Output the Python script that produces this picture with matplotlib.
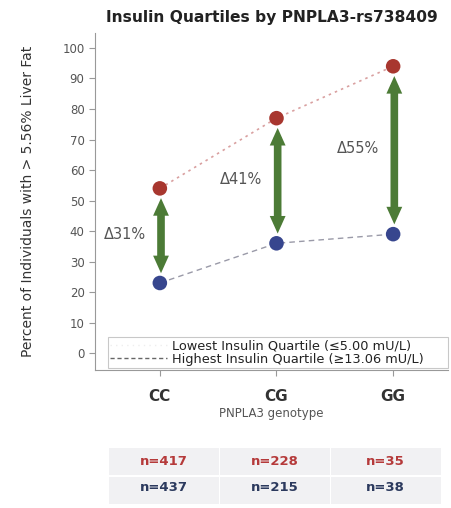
import matplotlib
matplotlib.use("Agg")
import matplotlib.pyplot as plt
from matplotlib.patches import Rectangle

genotypes = ["CC", "CG", "GG"]
highest = [54, 77, 94]
lowest = [23, 36, 39]
deltas = ["Δ31%", "Δ41%", "Δ55%"]
n_highest = ["n=417", "n=228", "n=35"]
n_lowest = ["n=437", "n=215", "n=38"]
yticks = list(range(0, 101, 10))

red = "#a8372f"
blue = "#37468e"
green = "#4c7b36"

fig = plt.figure(figsize=(4.51, 5.08), dpi=100)
ax = fig.add_axes([0.2106, 0.2717, 0.7827, 0.6633])
x = list(range(len(genotypes)))

ax.plot(x, lowest, linestyle=(0, (4, 3)), color="#9a9aa8", lw=1.0, zorder=1)
ax.plot(x, highest, linestyle=(0, (1.5, 2.5)), color="#d9a0a0", lw=1.2, zorder=1)
ax.scatter(x, highest, s=110, color=red, zorder=3, edgecolors="none")
ax.scatter(x, lowest, s=110, color=blue, zorder=3, edgecolors="none")

for xi, lo, hi, d in zip(x, lowest, highest, deltas):
    ax.annotate("", xy=(xi + 0.01, hi - 3.2), xytext=(xi + 0.01, lo + 3.2),
                arrowprops=dict(arrowstyle="<|-|>,head_length=0.4,head_width=0.18",
                                color=green, lw=5.5, shrinkA=0, shrinkB=0,
                                joinstyle="miter", capstyle="butt",
                                mutation_scale=8),
                zorder=2)
    ax.text(xi - 0.3, (lo + hi) / 2 + 0.5, d, ha="center", va="center",
            fontsize=10.5, color="#555555")

# legend handles
h_low, = ax.plot([], [], linestyle=(0, (1, 3)), color="#eeeeee", lw=1)
h_high, = ax.plot([], [], linestyle=(0, (3, 2)), color="#666666", lw=1)
leg = ax.legend([h_low, h_high],
                ["Lowest Insulin Quartile (≤5.00 mU/L)",
                 "Highest Insulin Quartile (≥13.06 mU/L)"],
                loc="lower left", bbox_to_anchor=(0.037, 0.006, 0.963, 0.119),
                mode="expand", fontsize=9.3, handlelength=4.4, frameon=True,
                fancybox=False, borderpad=0.15, labelspacing=0.05,
                handletextpad=0.4, borderaxespad=0)
leg.get_frame().set_edgecolor("#bbbbbb")
leg.get_frame().set_linewidth(0.8)
for t in leg.get_texts():
    t.set_color("#222222")

ax.set_xlim(-0.556, 2.47)
ax.set_ylim(-5.5, 104.9)
ax.set_yticks(yticks)
ax.set_yticklabels([str(v) for v in yticks], fontsize=8.5, color="#555555")
ax.set_xticks(x)
ax.set_xticklabels(genotypes, fontsize=11, fontweight="bold", color="#333333")
ax.tick_params(axis="both", direction="out", color="#999999", length=4)
ax.tick_params(axis="x", pad=10)
for s in ["top", "right"]:
    ax.spines[s].set_visible(False)
for s in ["left", "bottom"]:
    ax.spines[s].set_color("#999999")

ax.set_xlabel("PNPLA3 genotype", fontsize=8.5, color="#555555", labelpad=2)
ax.set_ylabel("Percent of Individuals with > 5.56% Liver Fat", fontsize=10,
              color="#333333", labelpad=20)
ax.set_title("Insulin Quartiles by PNPLA3-rs738409", fontsize=11.2,
             fontweight="bold", color="#222222", pad=8)

# n table
tax = fig.add_axes([0.2395, 0.006, 0.7388, 0.114])
tax.set_xlim(0, 3)
tax.set_ylim(0, 2)
tax.axis("off")
for i in range(3):
    for r in range(2):
        tax.add_patch(Rectangle((i + 0.005, r + 0.02), 0.99, 0.96,
                                facecolor="#f1f1f3", edgecolor="none"))
for i, (nh, nl) in enumerate(zip(n_highest, n_lowest)):
    tax.text(i + 0.5, 1.5, nh, ha="center", va="center", fontsize=9.5,
             color="#b53a3a", fontweight="bold")
    tax.text(i + 0.5, 0.6, nl, ha="center", va="center", fontsize=9.5,
             color="#2c3a5e", fontweight="bold")

fig.savefig("out.png", dpi=100)
